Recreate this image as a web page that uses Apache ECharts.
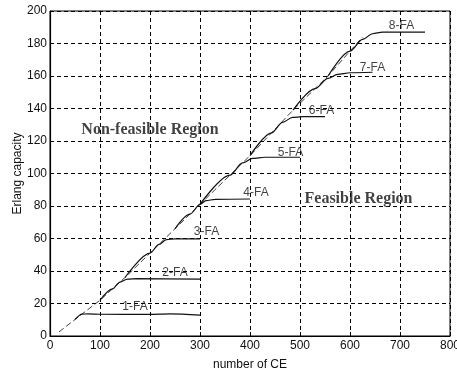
<!DOCTYPE html>
<html>
<head>
<meta charset="utf-8">
<script src="https://cdn.jsdelivr.net/npm/echarts@6/dist/echarts.min.js"></script>
<style>
  html, body { margin: 0; padding: 0; background: #fff; }
  #chart { width: 457px; height: 371px; }
</style>
</head>
<body>
<div id="chart"></div>
<script>
// capacity bound (dashed diagonal)
const boundLine = [[18, 2.5], [64, 13.5], [100, 22], [150, 36], [200, 51], [250, 66], [300, 81],
  [400, 111], [486, 139], [556, 160], [625, 184]];

// k-FA curves (each one leaves the bound and levels off)
const fa1 = [[50, 10.2], [64, 13.5], [76, 13.6], [100, 13.4], [200, 13.3], [240, 13.6], [300, 12.8]];
const fa2 = [[100, 22], [125, 29], [140, 33.2], [155, 35], [175, 35.3], [300, 35]];
const fa3 = [[150, 36], [200, 51], [218, 56.4], [233, 59.3], [250, 59.8], [300, 59.8]];
const fa4 = [[250, 66], [280, 75], [300, 81], [312, 83.3], [330, 84.1], [400, 84.3]];
const fa5 = [[300, 81], [360, 99], [385, 106.5], [405, 109.3], [430, 110], [500, 110]];
const fa6 = [[400, 111], [443, 125], [465, 131.5], [485, 134.5], [505, 135], [550, 135]];
const fa7 = [[486, 139], [530, 152.2], [556, 158.5], [575, 161], [600, 162], [645, 162.3]];
const fa8 = [[556, 160], [600, 175.3], [625, 182.5], [645, 186], [665, 187], [750, 187]];

// text annotations in data coordinates
const curveLabels = ['1-FA', '2-FA', '3-FA', '4-FA', '5-FA', '6-FA', '7-FA', '8-FA'];
const curveLabelX = [170, 250, 313, 412, 481, 543, 645, 703];
const curveLabelY = [18, 39, 64, 88, 113, 138.5, 165, 190.8];
const regionLabels = ['Non-feasible Region', 'Feasible Region'];
const regionLabelX = [200, 617];
const regionLabelY = [126.8, 84.7];

const chart = echarts.init(document.getElementById('chart'));

const faCurves = [fa1, fa2, fa3, fa4, fa5, fa6, fa7, fa8];

const curveSeries = faCurves.map((pts, i) => ({
  name: curveLabels[i],
  type: 'line',
  data: pts,
  smooth: 0.3,
  smoothMonotone: 'x',
  symbol: 'none',
  lineStyle: { color: '#111', width: 1.2 },
  z: 3,
}));

const options = {
  animation: false,
  grid: {
    left: 50,
    right: 7,
    top: 11,
    bottom: 35,
    outerBoundsMode: 'none',
    containLabel: false,
    show: true,
    borderColor: '#000',
    borderWidth: 1,
  },
  xAxis: {
    type: 'value',
    min: 0,
    max: 800,
    interval: 100,
    name: 'number of CE',
    nameLocation: 'middle',
    nameGap: 23,
    nameMoveOverlap: false,
    nameTextStyle: { color: '#111', fontFamily: 'Liberation Sans', fontSize: 12 },
    axisLine: { show: true, lineStyle: { color: '#000', width: 1.2 } },
    axisTick: { show: true, inside: true, length: 4, lineStyle: { color: '#000' } },
    axisLabel: { color: '#111', fontFamily: 'Liberation Sans', fontSize: 12, margin: 4 },
    splitLine: { show: true, lineStyle: { color: '#000', type: [4, 3], width: 1 } },
  },
  yAxis: {
    type: 'value',
    min: 0,
    max: 200,
    interval: 20,
    name: 'Erlang capacity',
    nameLocation: 'middle',
    nameGap: 26,
    nameMoveOverlap: false,
    nameTextStyle: { color: '#111', fontFamily: 'Liberation Sans', fontSize: 12 },
    axisLine: { show: true, lineStyle: { color: '#000', width: 1.2 } },
    axisTick: { show: true, inside: true, length: 4, lineStyle: { color: '#000' } },
    axisLabel: { color: '#111', fontFamily: 'Liberation Sans', fontSize: 12, margin: 3 },
    splitLine: { show: true, lineStyle: { color: '#000', type: [4, 3], width: 1 } },
  },
  series: [
    {
      name: 'bound',
      type: 'line',
      data: boundLine,
      symbol: 'none',
      lineStyle: { color: '#111', width: 0.8, type: [6, 3] },
      z: 2,
    },
    ...curveSeries,
    {
      name: 'curveText',
      type: 'scatter',
      symbolSize: 0,
      data: curveLabels.map((t, i) => ({ name: t, value: [curveLabelX[i], curveLabelY[i]] })),
      label: {
        show: true,
        position: 'inside',
        formatter: (p) => p.name,
        color: '#111',
        fontFamily: 'Liberation Sans',
        fontSize: 12,
      },
      z: 4,
    },
    {
      name: 'regionText',
      type: 'scatter',
      symbolSize: 0,
      data: regionLabels.map((t, i) => ({ name: t, value: [regionLabelX[i], regionLabelY[i]] })),
      label: {
        show: true,
        position: 'inside',
        formatter: (p) => p.name,
        color: '#111',
        fontFamily: 'Liberation Serif',
        fontWeight: 'bold',
        fontSize: 16,
      },
      z: 4,
    },
  ],
};

chart.setOption(options);
window.addEventListener('resize', () => { chart.resize(); });
</script>
</body>
</html>
